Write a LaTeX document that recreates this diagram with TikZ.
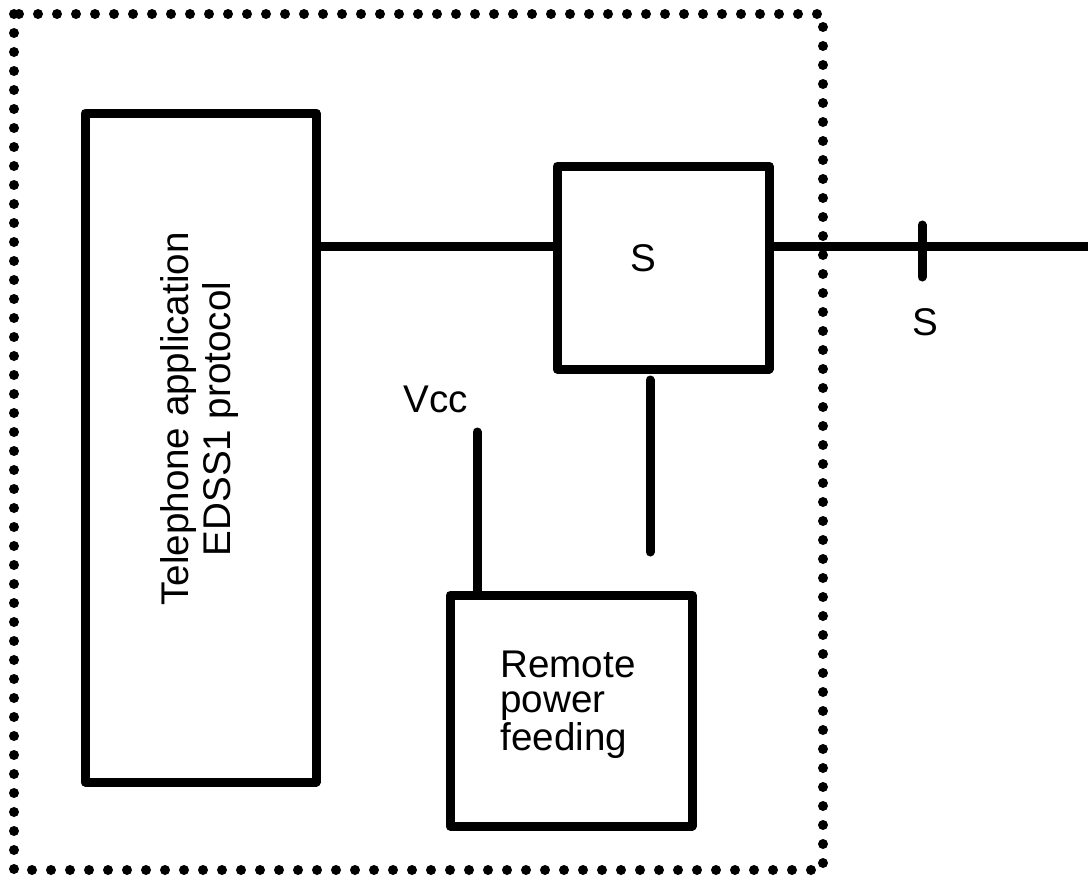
\documentclass[tikz,border=0pt]{standalone}
\usepackage{fontspec}
\setmainfont{Liberation Sans}
\usetikzlibrary{positioning, calc}

\tikzset{
	blockbox/.style={draw, line width=4.5pt, line join=round, inner sep=0pt},
	wire/.style={line width=4.5pt, line cap=round},
	frameline/.style={line width=5pt, line cap=round, dash pattern=on 0pt off 9.5pt},
	lbl/.style={inner sep=0pt, font=\fontsize{19.3}{19.5}\selectfont}
}

\begin{document}
\begin{tikzpicture}[x=0.5pt, y=-0.5pt]
		\useasboundingbox (0,0) rectangle (1088,878);
		% dotted enclosure
		\draw[frameline] (14,14) rectangle (823,870);
		% blocks
		\node[blockbox, minimum width=115.5pt, minimum height=334.5pt] (tele) at (200.5,447.5) {};
		\node[blockbox, minimum width=106pt, minimum height=101.5pt] (sw) at (663,267.5) {};
		\node[blockbox, minimum width=121pt, minimum height=115.5pt] (pwr) at (571,710.5) {};
		% labels
		\node[lbl, rotate=90, align=center, font=\fontsize{19.3}{21}\selectfont] (teletext) at (200,419) {Telephone application\\EDSS1 protocol};
		\node[lbl] (swtext) at (643,258) {S};
		\node[lbl, align=left, font=\fontsize{19.3}{17.5}\selectfont] (pwrtext) at (568,705) {Remote\\power\\feeding};
		\node[lbl] (vcc) at (436,399) {Vcc};
		% line and reference point
		\coordinate (lineend) at (1088,246);
		\coordinate (tick) at (922,246);
		\draw[wire] (tele.east |- lineend) -- (sw.west |- lineend);
		\draw[wire] (sw.east |- lineend) -- (lineend);
		\draw[wire] ($(tick)+(0,-21)$) -- ($(tick)+(0,31)$);
		\node[lbl] (refs) at (925,322) {S};
		% power connections
		\coordinate (swdown) at (650,380);
		\coordinate (swdownend) at (650,552);
		\coordinate (vcctop) at (477,432);
		\draw[wire] (swdown) -- (swdownend);
		\draw[wire] (vcctop) -- (pwr.north -| vcctop);
	\end{tikzpicture}
\end{document}
